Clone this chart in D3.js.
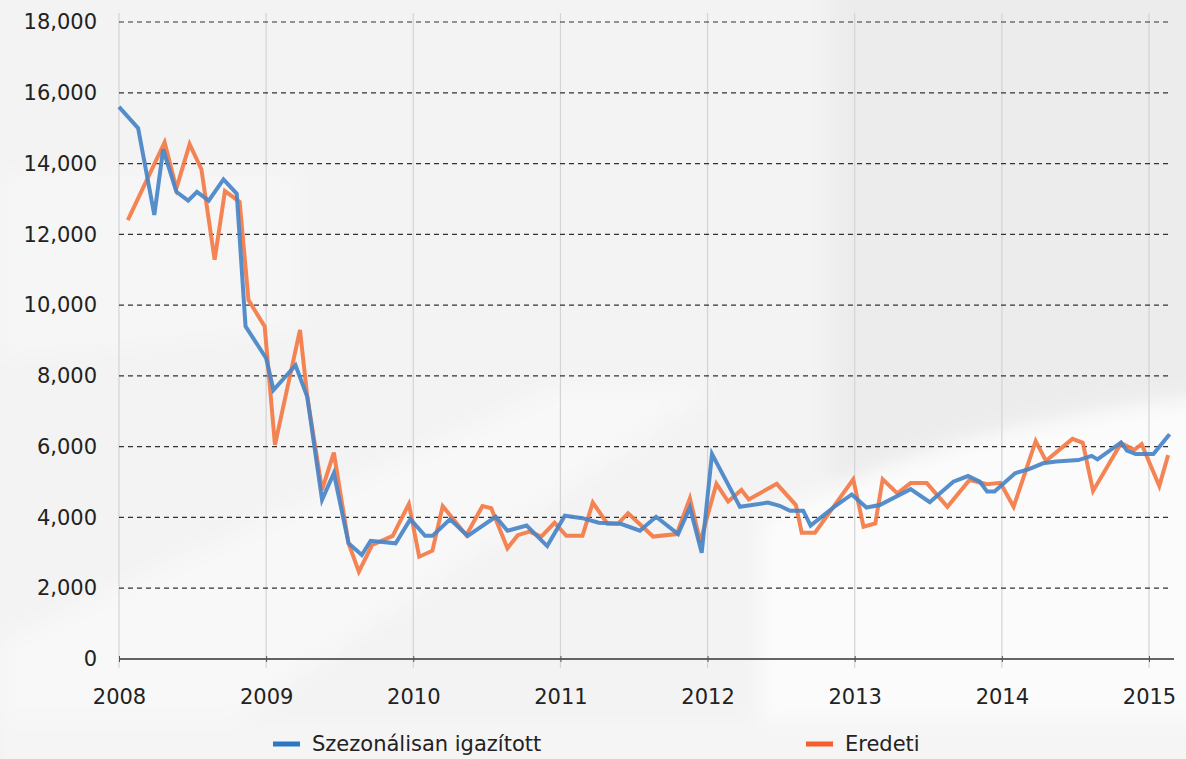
<!DOCTYPE html>
<html>
<head>
<meta charset="utf-8">
<script src="https://cdn.jsdelivr.net/npm/d3@7"></script>
<style>
  body { margin: 0; background: #f3f3f3; }
  svg { display: block; }
</style>
</head>
<body>
<div id="chart"></div>
<script>
// seasonally adjusted series (decimal year, value)
const saDates = [2008.0, 2008.13, 2008.24, 2008.3, 2008.39, 2008.47, 2008.53, 2008.61, 2008.71, 2008.8,
  2008.86, 2009.0, 2009.05, 2009.2, 2009.28, 2009.38, 2009.46, 2009.56, 2009.65, 2009.71,
  2009.88, 2009.98, 2010.08, 2010.13, 2010.25, 2010.37, 2010.56, 2010.64, 2010.77, 2010.91,
  2011.03, 2011.15, 2011.26, 2011.41, 2011.54, 2011.65, 2011.8, 2011.88, 2011.96, 2012.03,
  2012.22, 2012.41, 2012.49, 2012.56, 2012.65, 2012.7, 2012.87, 2012.98, 2013.08, 2013.17,
  2013.38, 2013.51, 2013.67, 2013.77, 2013.85, 2013.9, 2013.95, 2014.09, 2014.18, 2014.28,
  2014.37, 2014.52, 2014.61, 2014.65, 2014.81, 2014.85, 2014.91, 2015.03, 2015.14];
const saValues = [15600, 15000, 12550, 14400, 13200, 12950, 13200, 12950, 13550, 13150,
  9400, 8500, 7600, 8300, 7400, 4500, 5250, 3270, 2940, 3340,
  3270, 3950, 3480, 3480, 3950, 3480, 4020, 3625, 3770, 3190,
  4050, 3980, 3850, 3820, 3625, 4020, 3530, 4280, 3000, 5790,
  4300, 4420, 4330, 4190, 4190, 3770, 4330, 4650, 4280, 4350,
  4800, 4430, 5010, 5170, 5010, 4730, 4730, 5250, 5360, 5530,
  5580, 5620, 5740, 5640, 6120, 5890, 5790, 5790, 6350];

// original series
const origDates = [2008.06, 2008.31, 2008.39, 2008.48, 2008.56, 2008.65, 2008.72, 2008.82, 2008.88, 2008.99,
  2009.06, 2009.23, 2009.28, 2009.38, 2009.46, 2009.56, 2009.63, 2009.72, 2009.86, 2009.97,
  2010.04, 2010.13, 2010.2, 2010.36, 2010.47, 2010.53, 2010.64, 2010.71, 2010.79, 2010.87,
  2010.96, 2011.04, 2011.15, 2011.22, 2011.32, 2011.39, 2011.46, 2011.63, 2011.79, 2011.88,
  2011.95, 2012.06, 2012.14, 2012.23, 2012.28, 2012.47, 2012.6, 2012.64, 2012.73, 2012.99,
  2013.06, 2013.14, 2013.19, 2013.29, 2013.38, 2013.49, 2013.63, 2013.78, 2013.9, 2013.99,
  2014.08, 2014.23, 2014.3, 2014.48, 2014.55, 2014.62, 2014.81, 2014.9, 2014.95, 2015.07, 2015.13];
const origValues = [12400, 14600, 13300, 14550, 13840, 11280, 13220, 12920, 10140, 9400,
  6050, 9300, 7400, 4780, 5830, 3270, 2470, 3220, 3480, 4380,
  2890, 3060, 4320, 3500, 4320, 4260, 3130, 3500, 3600, 3460,
  3850, 3480, 3480, 4420, 3820, 3820, 4120, 3460, 3530, 4540,
  3310, 4950, 4450, 4780, 4510, 4950, 4350, 3570, 3570, 5080,
  3740, 3830, 5080, 4680, 4970, 4970, 4300, 5060, 4940, 4980,
  4300, 6160, 5600, 6220, 6110, 4750, 6100, 5910, 6070, 4890, 5760];

const yearTicks = [2008, 2009, 2010, 2011, 2012, 2013, 2014, 2015];
const valueTicks = [0, 2000, 4000, 6000, 8000, 10000, 12000, 14000, 16000, 18000];
const seriesNames = ["Szezonálisan igazított", "Eredeti"];

const width = 1186, height = 759;
const font = "'DejaVu Sans', Verdana, sans-serif";

const svg = d3.select("#chart")
  .append("svg")
  .attr("width", width)
  .attr("height", height);

// soft photo-like background
const defs = svg.append("defs");
defs.append("filter").attr("id", "soft")
  .attr("x", "-20%").attr("y", "-20%").attr("width", "140%").attr("height", "140%")
  .append("feGaussianBlur").attr("stdDeviation", 10);

const bg = svg.append("g").attr("filter", "url(#soft)");
bg.append("rect").attr("x", -50).attr("y", -50).attr("width", width + 100).attr("height", height + 100).attr("fill", "#f3f3f3");
bg.append("path").attr("d", "M0,640 L560,385 L720,385 L150,780 L0,780 Z").attr("fill", "#f8f8f8");
bg.append("path").attr("d", "M0,170 L300,170 L300,330 L0,360 Z").attr("fill", "#f6f6f6");
bg.append("path").attr("d", "M830,-20 L1210,-20 L1210,395 C1100,405 950,440 830,500 Z").attr("fill", "#ececec");
bg.append("path").attr("d", "M760,520 C900,450 1050,410 1210,398 L1210,780 L760,780 Z").attr("fill", "#fbfbfc");
bg.append("path").attr("d", "M0,720 L1210,720 L1210,780 L0,780 Z").attr("fill", "#f5f5f5");

// scales
const x = d3.scaleLinear().domain([2008, 2015]).range([119, 1149]);
const y = d3.scaleLinear().domain([0, 18000]).range([659, 22]);
const xEnd = x.invert(1174);

// vertical grid lines
svg.append("g")
  .selectAll("line")
  .data(yearTicks)
  .join("line")
  .attr("x1", d => x(d)).attr("x2", d => x(d))
  .attr("y1", 13).attr("y2", 668)
  .attr("stroke", "#d2d4d6")
  .attr("stroke-width", 1.2);

// horizontal dashed grid
svg.append("g")
  .selectAll("line")
  .data(valueTicks.filter(d => d > 0))
  .join("line")
  .attr("x1", x(2008)).attr("x2", 1170)
  .attr("y1", d => y(d)).attr("y2", d => y(d))
  .attr("stroke", "#333")
  .attr("stroke-width", 1.2)
  .attr("stroke-dasharray", "5,4");

// x axis
const xAxis = svg.append("g")
  .attr("transform", `translate(0,${y(0)})`)
  .call(d3.axisBottom(x).tickValues(yearTicks).tickFormat(d3.format("d")).tickSize(6).tickPadding(24));
xAxis.select(".domain").attr("d", `M${x(2008)},0H${x(xEnd)}`).attr("stroke", "#333").attr("stroke-width", 1.4);
xAxis.selectAll(".tick line").attr("stroke", "#555").attr("y1", -3).attr("y2", 3);
xAxis.selectAll("text")
  .attr("fill", "#222")
  .style("font-family", font)
  .style("font-size", "21px");

// y axis labels
const yAxis = svg.append("g")
  .attr("transform", "translate(119,0)")
  .call(d3.axisLeft(y).tickValues(valueTicks).tickFormat(d3.format(",")).tickSize(0).tickPadding(22));
yAxis.select(".domain").remove();
yAxis.selectAll("text")
  .attr("fill", "#222")
  .style("font-family", font)
  .style("font-size", "21px");

// lines
const line = d3.line().x(d => x(d[0])).y(d => y(d[1]));
const origPoints = d3.zip(origDates, origValues);
const saPoints = d3.zip(saDates, saValues);

svg.append("path")
  .datum(origPoints)
  .attr("d", line)
  .attr("fill", "none")
  .attr("stroke", "#f47a45")
  .attr("stroke-opacity", 0.92)
  .attr("stroke-width", 4)
  .attr("stroke-linejoin", "miter");

svg.append("path")
  .datum(saPoints)
  .attr("d", line)
  .attr("fill", "none")
  .attr("stroke", "#4884c8")
  .attr("stroke-opacity", 0.92)
  .attr("stroke-width", 4)
  .attr("stroke-linejoin", "miter");

// legend
const legendItems = [
  { name: seriesNames[0], color: "#2a78c6", x: 273 },
  { name: seriesNames[1], color: "#f45f2c", x: 806 }
];
const legend = svg.append("g")
  .selectAll("g")
  .data(legendItems)
  .join("g")
  .attr("transform", d => `translate(${d.x},744)`);
legend.append("rect")
  .attr("x", 0).attr("y", -2.5)
  .attr("width", 27).attr("height", 5)
  .attr("fill", d => d.color);
legend.append("text")
  .attr("x", 39).attr("y", 0)
  .attr("dy", "0.35em")
  .attr("fill", "#222")
  .style("font-family", font)
  .style("font-size", "21px")
  .text(d => d.name);
</script>
</body>
</html>
